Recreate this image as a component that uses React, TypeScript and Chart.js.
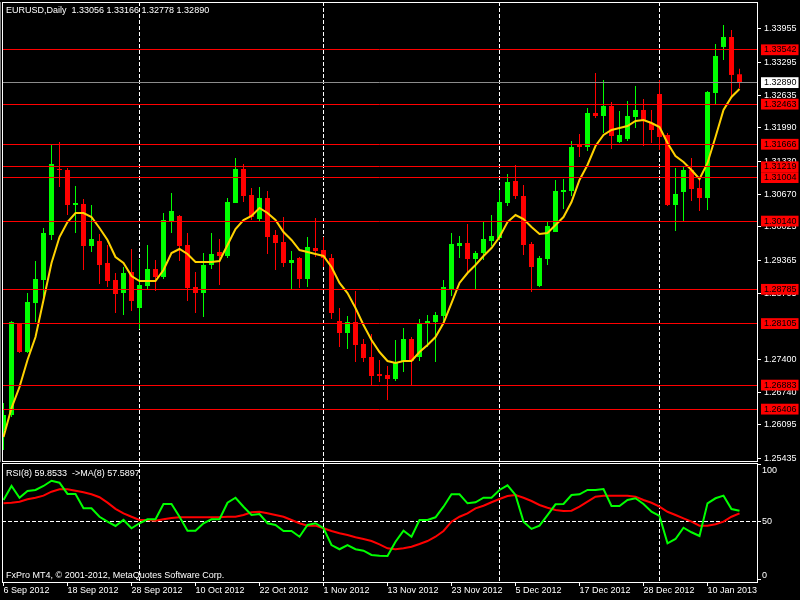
import React, { useEffect, useRef } from "react";
import { Chart, registerables } from "chart.js";

Chart.register(...registerables);

const FONT = "'Liberation Sans', Arial, sans-serif";

// ---------- data ----------
const symbol = "EURUSD";
const timeframe = "Daily";
const rsiPeriod = 8;
const maPeriod = 8;
const copyright = "FxPro MT4, \u00A9 2001-2012, MetaQuotes Software Corp.";

const open = [
  1.25991, 1.26289, 1.28096, 1.27540, 1.28513, 1.28970, 1.29864, 1.31175, 1.31155, 1.30460,
  1.30480, 1.29645, 1.29745, 1.29308, 1.28970, 1.28712, 1.29129, 1.28414, 1.28851, 1.29189,
  1.29030, 1.30142, 1.30241, 1.29665, 1.28831, 1.28712, 1.29268, 1.29526, 1.29447, 1.30499,
  1.31175, 1.30658, 1.30182, 1.30599, 1.29864, 1.29725, 1.29308, 1.29407, 1.28990, 1.29606,
  1.29566, 1.29407, 1.28156, 1.27918, 1.28136, 1.27699, 1.27441, 1.27103, 1.27084, 1.27004,
  1.27342, 1.27799, 1.27441, 1.28096, 1.28136, 1.28255, 1.28792, 1.29645, 1.29705, 1.29387,
  1.29506, 1.29745, 1.29804, 1.30499, 1.30936, 1.30638, 1.29685, 1.28851, 1.29387, 1.29923,
  1.30718, 1.30738, 1.31671, 1.31612, 1.32287, 1.32227, 1.32426, 1.31711, 1.31771, 1.32207,
  1.32346, 1.32088, 1.32664, 1.31850, 1.30460, 1.30718, 1.31155, 1.30797, 1.30599, 1.32684,
  1.33598, 1.33796, 1.33056,
];
const high = [
  1.26527, 1.28156, 1.28116, 1.28712, 1.29348, 1.30003, 1.31651, 1.31711, 1.31195, 1.30837,
  1.30579, 1.30460, 1.29884, 1.29665, 1.29109, 1.29228, 1.29586, 1.29387, 1.29665, 1.29367,
  1.30301, 1.30698, 1.30261, 1.29904, 1.29129, 1.29506, 1.29904, 1.29785, 1.30599, 1.31393,
  1.31274, 1.30797, 1.30817, 1.30738, 1.29963, 1.30221, 1.29546, 1.29427, 1.29824, 1.30202,
  1.29824, 1.29487, 1.28414, 1.28255, 1.28752, 1.27799, 1.27898, 1.27381, 1.27262, 1.27779,
  1.28017, 1.27838, 1.28196, 1.28275, 1.28335, 1.28970, 1.29904, 1.29844, 1.30082, 1.29546,
  1.30122, 1.30261, 1.30758, 1.31075, 1.31254, 1.30857, 1.29725, 1.29447, 1.30122, 1.30956,
  1.30976, 1.31731, 1.31870, 1.32386, 1.33081, 1.32942, 1.32505, 1.32327, 1.32525, 1.32823,
  1.32565, 1.32346, 1.32942, 1.31890, 1.31195, 1.31214, 1.31393, 1.30996, 1.32724, 1.33657,
  1.34035, 1.33935, 1.33166,
];
const low = [
  1.25594, 1.26249, 1.27520, 1.27520, 1.28136, 1.28573, 1.29765, 1.30817, 1.30261, 1.29904,
  1.29169, 1.29526, 1.28891, 1.28831, 1.28315, 1.28275, 1.28355, 1.27997, 1.28792, 1.28752,
  1.28990, 1.29904, 1.29348, 1.28553, 1.28315, 1.28235, 1.29189, 1.28871, 1.29407, 1.30499,
  1.30519, 1.30162, 1.30142, 1.29487, 1.29169, 1.29228, 1.28792, 1.28811, 1.28831, 1.29427,
  1.29228, 1.28196, 1.27640, 1.27600, 1.27342, 1.27342, 1.26885, 1.26945, 1.26587, 1.26964,
  1.27143, 1.26885, 1.27362, 1.27640, 1.27342, 1.28116, 1.28652, 1.29407, 1.29129, 1.28792,
  1.29367, 1.29645, 1.29765, 1.30440, 1.30579, 1.29467, 1.28732, 1.28831, 1.29268, 1.29923,
  1.30380, 1.30638, 1.31413, 1.31532, 1.32188, 1.31890, 1.31572, 1.31691, 1.31731, 1.31989,
  1.31631, 1.31691, 1.31552, 1.30440, 1.29943, 1.30142, 1.30539, 1.30341, 1.30360, 1.32466,
  1.33339, 1.32605, 1.32778,
];
const close = [
  1.26289, 1.28136, 1.27540, 1.28533, 1.28990, 1.29904, 1.31274, 1.31155, 1.30460, 1.30499,
  1.29645, 1.29785, 1.29268, 1.28950, 1.28692, 1.29109, 1.28553, 1.28871, 1.29189, 1.29030,
  1.30162, 1.30341, 1.29645, 1.28811, 1.28712, 1.29268, 1.29487, 1.29447, 1.30519, 1.31175,
  1.30638, 1.30221, 1.30599, 1.29824, 1.29705, 1.29308, 1.29367, 1.28990, 1.29626, 1.29546,
  1.29407, 1.28315, 1.27918, 1.28136, 1.27679, 1.27421, 1.27064, 1.27064, 1.27004, 1.27342,
  1.27799, 1.27362, 1.28116, 1.28156, 1.28275, 1.28831, 1.29685, 1.29705, 1.29387, 1.29506,
  1.29785, 1.29844, 1.30519, 1.30917, 1.30638, 1.29665, 1.29228, 1.29407, 1.30043, 1.30738,
  1.30758, 1.31612, 1.31612, 1.32287, 1.32227, 1.32426, 1.31830, 1.31850, 1.32227, 1.32346,
  1.32148, 1.31949, 1.31810, 1.30460, 1.30678, 1.31155, 1.30778, 1.30599, 1.32704, 1.33419,
  1.33796, 1.33042, 1.32890,
];
const priceMa = [
  1.25852, 1.26428, 1.26845, 1.27381, 1.27838, 1.28573, 1.29308, 1.29824, 1.30122, 1.30301,
  1.30301, 1.30221, 1.30003, 1.29765, 1.29427, 1.29308, 1.29050, 1.28950, 1.28950, 1.28950,
  1.29169, 1.29506, 1.29586, 1.29487, 1.29328, 1.29328, 1.29328, 1.29348, 1.29665, 1.29983,
  1.30162, 1.30241, 1.30400, 1.30301, 1.30162, 1.29923, 1.29765, 1.29566, 1.29526, 1.29487,
  1.29447, 1.29228, 1.28911, 1.28712, 1.28414, 1.28077, 1.27779, 1.27540, 1.27362, 1.27322,
  1.27362, 1.27362, 1.27540, 1.27679, 1.27838, 1.28116, 1.28513, 1.28911, 1.29109, 1.29268,
  1.29447, 1.29606, 1.29824, 1.30122, 1.30261, 1.30182, 1.30023, 1.29884, 1.29904, 1.30063,
  1.30221, 1.30519, 1.30956, 1.31254, 1.31631, 1.31850, 1.31949, 1.31989, 1.32029, 1.32128,
  1.32148, 1.32088, 1.32009, 1.31691, 1.31433, 1.31314, 1.31155, 1.30976, 1.31294, 1.31810,
  1.32346, 1.32605, 1.32763,
];
const rsi = [
  69.3, 81.6, 71.3, 77.2, 78.1, 81.6, 86.2, 84.5, 74.6, 74.6,
  62.0, 62.0, 54.6, 50.3, 46.5, 51.8, 44.5, 48.9, 52.4, 52.4,
  65.8, 65.8, 54.6, 42.4, 42.4, 48.9, 52.4, 52.4, 66.9, 71.3,
  63.4, 56.1, 57.0, 48.9, 47.4, 42.1, 42.1, 37.1, 47.4, 48.9,
  44.5, 29.8, 26.1, 29.8, 26.1, 24.8, 21.1, 20.4, 20.2, 32.7,
  42.4, 37.1, 51.8, 51.8, 54.1, 63.4, 74.3, 74.3, 66.4, 67.3,
  71.3, 71.3, 78.1, 82.2, 73.7, 50.3, 43.9, 46.8, 56.1, 65.5,
  65.8, 73.7, 74.3, 78.1, 78.1, 78.9, 64.0, 64.0, 69.3, 70.8,
  65.8, 59.0, 55.3, 31.3, 35.1, 45.0, 41.0, 37.7, 66.4, 70.8,
  73.1, 61.4, 59.8533,
];
const rsiMa = [
  66.4, 66.9, 67.8, 69.9, 71.3, 73.1, 76.6, 78.7, 78.7, 77.5,
  76.1, 74.3, 71.7, 67.0, 61.5, 57.6, 54.6, 51.8, 51.8, 51.1,
  52.4, 53.5, 54.1, 54.1, 54.1, 54.1, 54.1, 54.1, 54.6, 54.6,
  56.1, 58.5, 59.0, 57.6, 56.1, 54.6, 51.8, 48.9, 46.8, 46.8,
  44.5, 42.1, 40.1, 38.6, 36.6, 35.1, 33.3, 30.4, 26.9, 26.1,
  26.9, 28.3, 30.7, 33.3, 37.1, 42.1, 50.3, 54.6, 57.6, 62.0,
  64.3, 67.3, 70.2, 72.8, 73.7, 71.3, 68.4, 64.9, 62.5, 60.5,
  59.6, 59.9, 63.4, 67.8, 72.2, 73.1, 73.1, 73.1, 73.1, 72.2,
  69.3, 66.9, 63.4, 59.0, 56.1, 53.2, 50.3, 46.8, 46.8, 48.0,
  50.3, 54.6, 57.5897,
];

const dateLabels = [
  "6 Sep 2012", "18 Sep 2012", "28 Sep 2012", "10 Oct 2012", "22 Oct 2012", "1 Nov 2012",
  "13 Nov 2012", "23 Nov 2012", "5 Dec 2012", "17 Dec 2012", "28 Dec 2012", "10 Jan 2013",
];
const dateLabelBars = [0, 8, 16, 24, 32, 40, 48, 56, 64, 72, 80, 88];
const monthStartBars = [17, 40, 62, 82];

const priceTicks = [
  1.33955, 1.33295, 1.32635, 1.3199, 1.3133, 1.3067, 1.30025, 1.29365, 1.28705,
  1.274, 1.2674, 1.26095, 1.25435,
];
const levelLines = [
  1.33542, 1.32463, 1.31666, 1.31219, 1.31004, 1.3014, 1.28785, 1.28105, 1.26883, 1.26406,
];
const rsiLevels = [0, 50, 100];

// visible ranges
const xMin = -0.1875;
const xMax = 94.1875;
const priceMin = 1.25376;
const priceMax = 1.34491;
const rsiMin = -2.63;
const rsiMax = 101.75;

// ---------- helpers ----------
const idx = open.map((_, i) => i);
const last = idx.length - 1;
const bidPrice = close[last];
const candleColors = idx.map((i) => (close[i] >= open[i] ? "#00FF00" : "#FF0000"));

const framePlugin = {
  id: "mtFrame",
  afterDraw(chart: any) {
    const { ctx, chartArea: a } = chart;
    ctx.save();
    ctx.strokeStyle = "#FFFFFF";
    ctx.lineWidth = 1;
    ctx.strokeRect(a.left + 0.5, a.top + 0.5, a.right - a.left, a.bottom - a.top);
    ctx.restore();
  },
};

const headerPlugin = {
  id: "mtHeader",
  afterDraw(chart: any) {
    const { ctx } = chart;
    ctx.save();
    ctx.font = `9px ${FONT}`;
    ctx.fillStyle = "#FFFFFF";
    ctx.textBaseline = "middle";
    ctx.textAlign = "left";
    const txt = `${symbol},${timeframe}  ${open[last].toFixed(5)} ${high[last].toFixed(5)} ${low[last].toFixed(5)} ${close[last].toFixed(5)}`;
    ctx.fillText(txt, 6, 11);
    ctx.restore();
  },
};

const rsiTextPlugin = {
  id: "mtRsiText",
  afterDraw(chart: any) {
    const { ctx, chartArea: a } = chart;
    const ys = chart.scales.y;
    ctx.save();
    ctx.font = `9px ${FONT}`;
    ctx.fillStyle = "#FFFFFF";
    ctx.textBaseline = "middle";
    ctx.textAlign = "left";
    ctx.fillText(
      `RSI(${rsiPeriod}) ${rsi[last].toFixed(4)}  ->MA(${maPeriod}) ${rsiMa[last].toFixed(4)}`,
      6,
      a.top + 11
    );
    ctx.fillText(copyright, 6, a.bottom - 6.5);
    rsiLevels.forEach((v) => {
      const p = ys.getPixelForValue(v);
      const y = Math.min(Math.max(p, a.top + 7.7), a.bottom - 6.3);
      ctx.fillText(String(v), a.right + 5, y);
    });
    ctx.restore();
  },
};

const nPrice = priceTicks.length;
const nLevel = levelLines.length;
const tickKind = (i: number) => (i < nPrice ? "n" : i < nPrice + nLevel ? "l" : "b");

export default function App() {
  const mainRef = useRef<HTMLCanvasElement | null>(null);
  const rsiRef = useRef<HTMLCanvasElement | null>(null);

  useEffect(() => {
    if (!mainRef.current || !rsiRef.current) return;

    const main = new Chart(mainRef.current, {
      type: "bar",
      data: {
        datasets: [
          {
            type: "bar",
            label: "wick",
            data: idx.map((i) => ({ x: i, y: [low[i], high[i]] })) as any,
            backgroundColor: candleColors,
            barThickness: 1,
            grouped: false,
            borderWidth: 0,
            inflateAmount: 0,
            order: 3,
          } as any,
          {
            type: "bar",
            label: "body",
            data: idx.map((i) => ({ x: i, y: [open[i], close[i]] })) as any,
            backgroundColor: candleColors,
            barThickness: 5,
            minBarLength: 1,
            grouped: false,
            borderWidth: 0,
            inflateAmount: 0,
            order: 2,
          } as any,
          {
            type: "line",
            label: "MA",
            data: idx.map((i) => ({ x: i, y: priceMa[i] })) as any,
            borderColor: "#FFD200",
            borderWidth: 2,
            pointRadius: 0,
            tension: 0,
            order: 1,
          } as any,
        ],
      },
      options: {
        responsive: false,
        animation: false,
        events: [],
        layout: { padding: { left: 2, top: 2, right: 0, bottom: 1 } },
        plugins: { legend: { display: false }, tooltip: { enabled: false } },
        scales: {
          x: {
            type: "linear",
            min: xMin,
            max: xMax,
            offset: false,
            afterBuildTicks: (s: any) => {
              s.ticks = monthStartBars.map((v) => ({ value: v }));
            },
            afterFit: (s: any) => {
              s.height = 0;
              s.paddingLeft = 0;
              s.paddingRight = 0;
            },
            ticks: { display: false },
            grid: { display: true, offset: false, color: "#FFFFFF", lineWidth: 1, drawTicks: false, drawOnChartArea: true },
            border: { display: false, dash: [4, 2] },
          },
          y: {
            type: "linear",
            position: "right",
            min: priceMin,
            max: priceMax,
            afterBuildTicks: (s: any) => {
              s.ticks = [...priceTicks, ...levelLines, bidPrice].map((v) => ({ value: v }));
            },
            afterFit: (s: any) => {
              s.width = 43;
              s.paddingTop = 0;
              s.paddingBottom = 0;
            },
            ticks: {
              autoSkip: false,
              z: 1,
              padding: 3,
              font: { family: FONT, size: 9 },
              callback: (v: any) => Number(v).toFixed(5),
              color: (c: any) => (tickKind(c.index) === "n" ? "#FFFFFF" : "#000000"),
              showLabelBackdrop: true,
              backdropColor: (c: any) => {
                const k = tickKind(c.index);
                return k === "l" ? "#FF0000" : k === "b" ? "#FFFFFF" : "rgba(0,0,0,0)";
              },
              backdropPadding: { left: 3, right: 2, top: 0, bottom: 0 },
            } as any,
            grid: {
              z: 1,
              drawOnChartArea: true,
              drawTicks: true,
              tickLength: 4,
              lineWidth: 1,
              color: (c: any) => {
                const k = tickKind(c.index);
                return k === "l" ? "#FF0000" : k === "b" ? "#8C8C8C" : "rgba(0,0,0,0)";
              },
              tickColor: (c: any) => (tickKind(c.index) === "n" ? "#FFFFFF" : "rgba(0,0,0,0)"),
            } as any,
            border: { display: true, color: "#FFFFFF" },
          },
        },
      } as any,
      plugins: [framePlugin, headerPlugin],
    });

    const rsiChart = new Chart(rsiRef.current, {
      type: "line",
      data: {
        datasets: [
          {
            label: "RSI",
            data: idx.map((i) => ({ x: i, y: rsi[i] })) as any,
            borderColor: "#00FF00",
            borderWidth: 2,
            pointRadius: 0,
            tension: 0,
            xAxisID: "x",
            yAxisID: "y",
          },
          {
            label: "MA",
            data: idx.map((i) => ({ x: i, y: rsiMa[i] })) as any,
            borderColor: "#FF0000",
            borderWidth: 2,
            pointRadius: 0,
            tension: 0,
            xAxisID: "x",
            yAxisID: "y",
          },
        ],
      },
      options: {
        responsive: false,
        animation: false,
        events: [],
        layout: { padding: { left: 2, top: 1, right: 0, bottom: 0 } },
        plugins: { legend: { display: false }, tooltip: { enabled: false } },
        scales: {
          x: {
            type: "linear",
            position: "bottom",
            min: xMin,
            max: xMax,
            offset: false,
            afterBuildTicks: (s: any) => {
              s.ticks = dateLabelBars.map((v) => ({ value: v }));
            },
            afterFit: (s: any) => {
              s.height = 18;
              s.paddingLeft = 0;
              s.paddingRight = 0;
            },
            ticks: {
              autoSkip: false,
              maxRotation: 0,
              minRotation: 0,
              align: "start",
              padding: 0,
              color: "#FFFFFF",
              font: { family: FONT, size: 9, lineHeight: 1 },
              callback: (_v: any, i: number) => dateLabels[i],
            },
            grid: { drawOnChartArea: false, drawTicks: true, tickLength: 4, tickColor: "#FFFFFF", offset: false },
            border: { display: true, color: "#FFFFFF" },
          },
          xm: {
            type: "linear",
            position: "bottom",
            min: xMin,
            max: xMax,
            offset: false,
            afterBuildTicks: (s: any) => {
              s.ticks = monthStartBars.map((v) => ({ value: v }));
            },
            afterFit: (s: any) => {
              s.height = 0;
              s.paddingLeft = 0;
              s.paddingRight = 0;
            },
            ticks: { display: false },
            grid: { color: "#FFFFFF", lineWidth: 1, drawTicks: false, offset: false },
            border: { display: false, dash: [4, 2] },
          },
          y: {
            type: "linear",
            position: "right",
            min: rsiMin,
            max: rsiMax,
            afterBuildTicks: (s: any) => {
              s.ticks = rsiLevels.map((v) => ({ value: v }));
            },
            afterFit: (s: any) => {
              s.width = 43;
              s.paddingTop = 0;
              s.paddingBottom = 0;
            },
            ticks: { display: false },
            grid: {
              drawTicks: true,
              tickLength: 4,
              tickColor: "#FFFFFF",
              lineWidth: 1,
              color: (c: any) => (c.tick && c.tick.value === 50 ? "#FFFFFF" : "rgba(0,0,0,0)"),
            },
            border: { display: true, color: "#FFFFFF", dash: [4, 2] },
          },
        },
      } as any,
      plugins: [framePlugin, rsiTextPlugin],
    });

    return () => {
      main.destroy();
      rsiChart.destroy();
    };
  }, []);

  return (
    <div style={{ position: "fixed", left: 0, top: 0, width: 800, height: 600, background: "#000000", overflow: "hidden" }}>
      <canvas ref={mainRef} width={800} height={462} style={{ position: "absolute", left: 0, top: 0, width: 800, height: 462 }} />
      <canvas ref={rsiRef} width={800} height={138} style={{ position: "absolute", left: 0, top: 462, width: 800, height: 138 }} />
    </div>
  );
}
